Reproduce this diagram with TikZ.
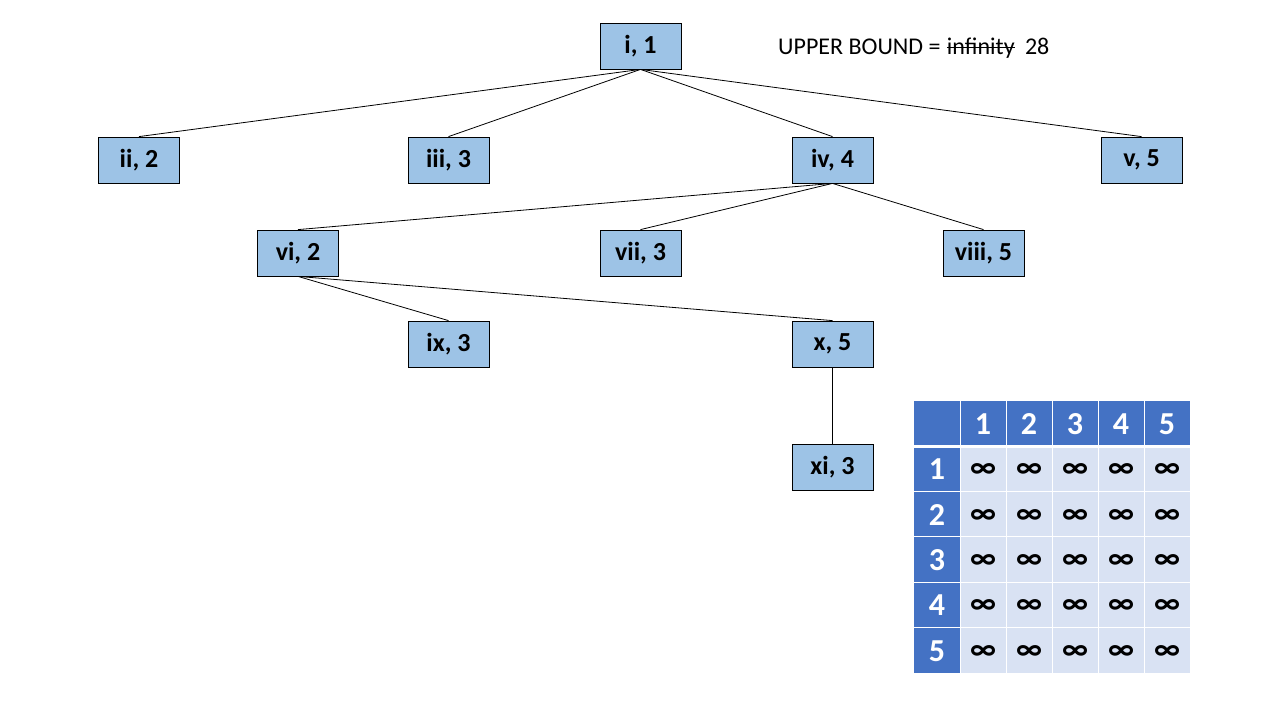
\documentclass[tikz,border=0pt]{standalone}
\usepackage{fontspec}
\setmainfont{Carlito}
\definecolor{nodeblue}{HTML}{9DC3E6}
\definecolor{hdrblue}{HTML}{4472C4}
\definecolor{cellblue}{HTML}{D9E2F3}
\begin{document}
\begin{tikzpicture}[x=1pt,y=-1pt,
  treenode/.style={draw=black, line width=0.8pt, fill=nodeblue, minimum width=81pt, minimum height=46pt, inner sep=0pt, font=\fontsize{26}{28}\selectfont\bfseries},
  edge/.style={draw=black, line width=0.8pt},
  ubtext/.style={inner sep=0pt, font=\fontsize{24}{28}\selectfont},
  hdrtext/.style={text=white, font=\fontsize{32}{34}\selectfont\bfseries, inner sep=0pt},
  inftext/.style={text=black, font=\fontsize{31}{34}\selectfont\bfseries, inner sep=0pt},
  gridline/.style={draw=white, line width=1pt}]
\useasboundingbox (0,0) rectangle (1280,720);
\fill[white] (0,0) rectangle (1280,720);

% tree nodes
\node[treenode] (n1) at (640.5,46) {i, 1};
\node[treenode] (n2) at (139,160) {ii, 2};
\node[treenode] (n3) at (448.5,160) {iii, 3};
\node[treenode] (n4) at (832.5,160) {iv, 4};
\node[treenode] (n5) at (1141.5,160) {v, 5};
\node[treenode] (n6) at (298,253) {vi, 2};
\node[treenode] (n7) at (640.5,253) {vii, 3};
\node[treenode] (n8) at (983.5,253) {viii, 5};
\node[treenode] (n9) at (448.5,344) {ix, 3};
\node[treenode] (n10) at (832.5,344) {x, 5};
\node[treenode] (n11) at (832.5,467) {xi, 3};

% edges
\foreach \c in {n2,n3,n4,n5} \draw[edge] (n1.south) -- (\c.north);
\foreach \c in {n6,n7,n8} \draw[edge] (n4.south) -- (\c.north);
\foreach \c in {n9,n10} \draw[edge] (n6.south) -- (\c.north);
\draw[edge] (n10.south) -- (n11.north);

% upper bound text
\node[ubtext, anchor=base west] (ub) at (778,54) {UPPER BOUND =};
\node[ubtext, anchor=base west] (inf) at ([xshift=6pt]ub.base east) {infinity};
\node[ubtext, anchor=base west] (ubv) at ([xshift=10pt]inf.base east) {28};
\draw[black, line width=1pt] ([yshift=6.5pt]inf.base west) -- ([yshift=6.5pt]inf.base east);

% table
\fill[hdrblue] (914,401) rectangle (1190,446);
\fill[hdrblue] (914,446) rectangle (960,673);
\fill[cellblue] (960,446) rectangle (1190,673);
\foreach \x in {960,1006,1052,1098,1144} \draw[gridline] (\x,401) -- (\x,673);
\foreach \y in {491.33,536.67,582,627.33} \draw[gridline] (914,\y) -- (1190,\y);
\draw[draw=white, line width=3pt] (914,446) -- (1190,446);

\foreach \i in {1,...,5} {
  \node[hdrtext] (h\i) at ({914+46*\i+23},424) {\i};
  \node[hdrtext] (r\i) at (937,{446+45.33*(\i-1)+23.5}) {\i};
  \foreach \j in {1,...,5} {
    \node[inftext] (c\i\j) at ({914+46*\j+23},{446+45.33*(\i-1)+25}) {∞};
  }
}
\end{tikzpicture}
\end{document}
